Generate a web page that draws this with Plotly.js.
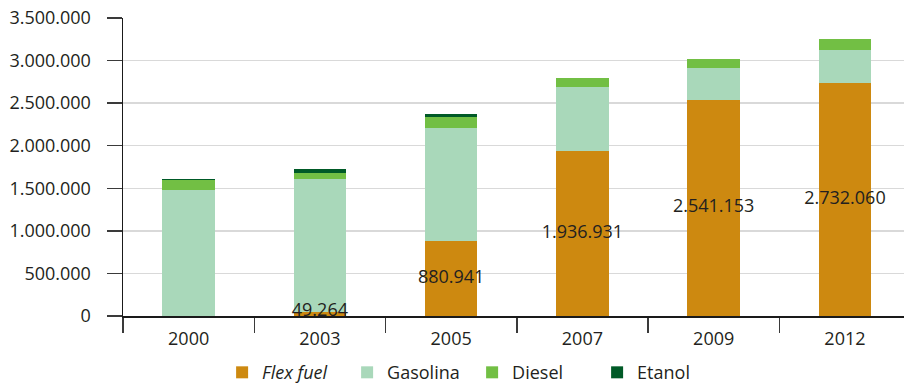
<!DOCTYPE html>
<html>
<head>
<meta charset="utf-8">
<script src="https://cdn.plot.ly/plotly-3.0.1.min.js"></script>
<style>html,body{margin:0;padding:0;background:#fff;}#chart{width:904px;height:383px;}</style>
</head>
<body>
<div id="chart"></div>
<script>
const years = ['2000', '2003', '2005', '2007', '2009', '2012'];
const flexFuel = [0, 49264, 880941, 1936931, 2541153, 2732060];
const gasolina = [1475000, 1555000, 1331000, 755000, 374000, 393000];
const diesel = [120000, 70000, 129000, 106000, 105000, 129000];
const etanol = [10000, 47000, 35000, 0, 0, 0];
const flexLabels = ['', '49.264', '880.941', '1.936.931', '2.541.153', '2.732.060'];
const yTickVals = [0, 500000, 1000000, 1500000, 2000000, 2500000, 3000000, 3500000];
const yTickText = ['0', '500.000', '1.000.000', '1.500.000', '2.000.000', '2.500.000', '3.000.000', '3.500.000'];

const FONT = 'Open Sans, Noto Sans, sans-serif';
const TXT = '#231F20';

function bar(name, vals, color) {
  return {type: 'bar', name: name, x: years, y: vals, marker: {color: color, line: {width: 0}},
          hoverinfo: 'none', textposition: 'none'};
}

const traces = [
  bar('<i>Flex fuel</i>', flexFuel, '#CD8910'),
  bar('Gasolina', gasolina, '#A9D8BA'),
  bar('Diesel', diesel, '#72BF44'),
  bar('Etanol', etanol, '#005A27')
];

// value labels: centred on each Flex fuel segment; a very short segment gets its label at its top
const labelX = [], labelY = [], labelT = [];
years.forEach((yr, i) => {
  if (!flexLabels[i]) return;
  labelX.push(yr);
  labelY.push(flexFuel[i] < 100000 ? flexFuel[i] : flexFuel[i] / 2);
  labelT.push(flexLabels[i]);
});
traces.push({
  type: 'scatter', mode: 'text', x: labelX, y: labelY, text: labelT,
  textposition: 'middle center', textfont: {family: FONT, size: 18, color: TXT},
  showlegend: false, hoverinfo: 'none', cliponaxis: false
});

const layout = {
  width: 904, height: 383,
  margin: {l: 123, r: 0, t: 18, b: 67, autoexpand: false},
  barmode: 'stack',
  bargap: 0.6,
  paper_bgcolor: '#fff', plot_bgcolor: '#fff',
  font: {family: FONT, size: 18, color: TXT},
  showlegend: true,
  legend: {orientation: 'h', x: 0.447, xanchor: 'center', y: -0.19, yanchor: 'middle',
           font: {family: FONT, size: 18, color: TXT}, entrywidth: 80, entrywidthmode: 'pixels',
           traceorder: 'normal'},
  xaxis: {type: 'category', range: [-0.5, 5.45], tickson: 'boundaries',
          ticks: 'outside', ticklen: 15, tickwidth: 1.5, tickcolor: '#3a3a3a',
          ticklabelstandoff: 6,
          showline: true, linecolor: '#1a1a1a', linewidth: 1.5,
          showgrid: false, tickfont: {family: FONT, size: 18, color: TXT}},
  yaxis: {range: [0, 3500000], tickvals: yTickVals, ticktext: yTickText,
          ticks: 'outside', ticklen: 15, tickwidth: 1.5, tickcolor: '#3a3a3a',
          ticklabelstandoff: 12,
          showline: true, linecolor: '#1a1a1a', linewidth: 1.5,
          showgrid: true, gridcolor: '#D9D9D9', gridwidth: 1.5, zeroline: false,
          tickfont: {family: FONT, size: 18, color: TXT}}
};

Plotly.newPlot('chart', traces, layout, {displayModeBar: false, staticPlot: true});
</script>
</body>
</html>
